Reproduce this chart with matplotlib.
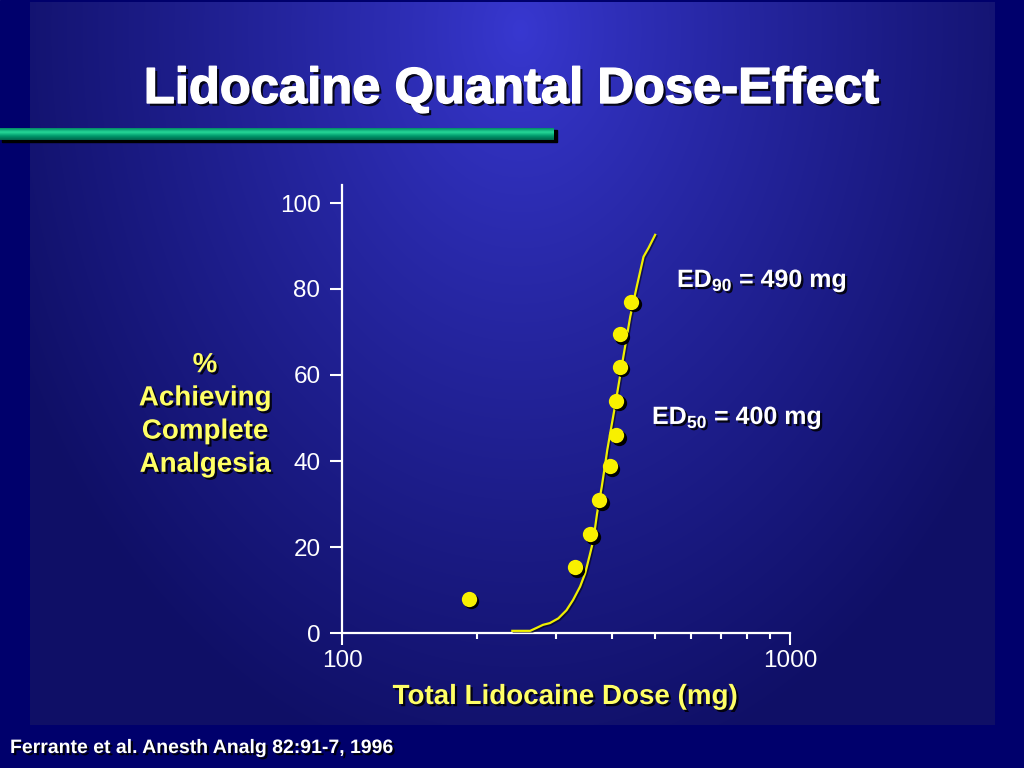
import numpy as np
import matplotlib
matplotlib.use('Agg')
import matplotlib.pyplot as plt
import matplotlib.patheffects as pe
import matplotlib.transforms as mtransforms
from matplotlib import font_manager
from matplotlib.ticker import FixedLocator, NullFormatter

# observed data points (dose mg, % achieving complete analgesia)
dose_pts = [192, 331, 358, 375, 396, 409, 409, 417, 417, 442]
pct_pts = [8, 15.3, 23, 30.9, 38.8, 46, 54, 61.9, 69.5, 77]
# fitted curve
dose_fit = [240, 263, 272, 281, 291, 304, 317, 328, 340, 349, 358, 364, 371, 380, 388, 391,
            407, 425, 440, 455, 471, 483, 500]
pct_fit = [0.5, 0.5, 1.2, 1.9, 2.3, 3.4, 5.3, 7.7, 10.8, 13.9, 18.5, 21.6, 27.8, 34.0, 40.2, 42.6,
           52.9, 64.5, 73.6, 80.6, 87.5, 89.5, 92.6]
y_ticks = [0, 20, 40, 60, 80, 100]
x_major = [100, 1000]
x_minor = [200, 300, 400, 500, 600, 700, 800, 900]

W, H = 1024, 768
plt.rcParams.update({'font.family': ['Liberation Sans', 'DejaVu Sans'], 'mathtext.default': 'regular'})

def has_font(name):
    try:
        font_manager.findfont(name, fallback_to_default=False); return True
    except Exception:
        return False
narrow = has_font('Liberation Sans Narrow')
title_family = ['Liberation Sans Narrow', 'Liberation Sans'] if narrow else ['Liberation Sans']
title_size = 44 if narrow else 36.5

fig = plt.figure(figsize=(W/100, H/100), dpi=100)

# background: dark frame + radial blue panel
bg = fig.add_axes([0, 0, 1, 1], zorder=0)
bg.set_xlim(0, W); bg.set_ylim(H, 0); bg.axis('off')
bg.add_patch(plt.Rectangle((0, 0), W, H, color='#00006c', zorder=0))
yy, xx = np.mgrid[2:725, 30:995]
t = np.clip(np.sqrt(((xx-520)/560.)**2 + ((yy-30)/760.)**2), 0, 1)**0.85
c0 = np.array([0.22, 0.22, 0.82]); c1 = np.array([0.06, 0.06, 0.40])
img = c0[None, None, :]*(1-t[..., None]) + c1[None, None, :]*t[..., None]
bg.imshow(img, extent=[30, 995, 725, 2], aspect='auto', zorder=1, interpolation='bilinear')

# green bar under title
bg.add_patch(plt.Rectangle((2, 130), 555, 12, color='black', zorder=2))
g = np.linspace(0, 1, 24)
gcol = np.array([[0.0, 0.55, 0.40], [0.15, 0.85, 0.60], [0.0, 0.60, 0.42], [0.0, 0.40, 0.30]])
gx = np.linspace(0, 1, len(gcol))
grad = np.stack([np.interp(g, gx, gcol[:, k]) for k in range(3)], axis=1)[:, None, :]
bg.imshow(np.repeat(grad, 2, axis=1), extent=[0, 554, 140, 128], aspect='auto', zorder=3, interpolation='bilinear')
bg.set_xlim(0, W); bg.set_ylim(H, 0)

shadow = [pe.withSimplePatchShadow(offset=(1.6, -1.6), shadow_rgbFace='black', alpha=0.85)]

# main axes
ax = fig.add_axes([342/W, 1-633/H, (790-342)/W, (633-185)/H], zorder=2)
ax.patch.set_alpha(0)
ax.set_xscale('log')
ax.set_xlim(100, 1000)
ax.set_ylim(0, 100*(633-185)/430.)
for s in ['top', 'right']:
    ax.spines[s].set_visible(False)
for s in ['left', 'bottom']:
    ax.spines[s].set_color('white'); ax.spines[s].set_linewidth(1.6)
ax.xaxis.set_major_locator(FixedLocator(x_major))
ax.xaxis.set_minor_locator(FixedLocator(x_minor))
ax.xaxis.set_minor_formatter(NullFormatter())
ax.set_xticklabels([str(v) for v in x_major])
ax.set_yticks(y_ticks)
ax.set_yticklabels([str(v) for v in y_ticks])
ax.tick_params(axis='both', which='major', colors='white', labelcolor='white', labelsize=17.5,
               length=8.5, width=1.5, direction='out')
ax.tick_params(axis='y', pad=7)
ax.tick_params(axis='x', pad=4)
ax.tick_params(axis='x', which='minor', colors='white', length=4.5, width=1.5, direction='out')

# curve with faint shadow
ax.plot(dose_fit, pct_fit, color='#f0f000', lw=1.6, zorder=3, solid_joinstyle='round',
        path_effects=[pe.SimpleLineShadow(offset=(1, -1), shadow_color='black', alpha=0.5), pe.Normal()])
off = mtransforms.offset_copy(ax.transData, fig=fig, x=2.5, y=-2.5, units='dots')
ax.plot(dose_pts, pct_pts, 'o', color='black', ms=11, mec='none', transform=off, zorder=4, clip_on=False)
ax.plot(dose_pts, pct_pts, 'o', color='#f8f000', ms=11, mec='none', zorder=5, clip_on=False)

# texts
title_fx = [pe.SimplePatchShadow(offset=(2, -2), shadow_rgbFace='black', alpha=0.85),
            pe.Stroke(linewidth=1.0, foreground='white'), pe.Normal()]
fig.text(512/W, 1-103/H, 'Lidocaine Quantal Dose-Effect', color='white', fontsize=title_size, fontweight='bold',
         family=title_family, ha='center', va='baseline', path_effects=title_fx, zorder=5)
fig.text(205/W, 1-415/H, '%\nAchieving\nComplete\nAnalgesia', color='#ffff66', fontsize=20, fontweight='bold',
         ha='center', va='center', multialignment='center', linespacing=1.36, path_effects=shadow, zorder=5)
fig.text(565/W, 1-697/H, 'Total Lidocaine Dose (mg)', color='#ffff66', fontsize=20, fontweight='bold',
         ha='center', va='center', path_effects=shadow, zorder=5)
fig.text(677/W, 1-287/H, r'ED$_{90}$ = 490 mg', color='white', fontsize=18, fontweight='bold',
         ha='left', va='baseline', path_effects=shadow, zorder=5)
fig.text(652/W, 1-424/H, r'ED$_{50}$ = 400 mg', color='white', fontsize=18, fontweight='bold',
         ha='left', va='baseline', path_effects=shadow, zorder=5)
fig.text(10/W, 1-753/H, 'Ferrante et al. Anesth Analg 82:91-7, 1996', color='white', fontsize=14, fontweight='bold',
         ha='left', va='baseline', path_effects=shadow, zorder=5)

fig.savefig('out.png', dpi=100)
